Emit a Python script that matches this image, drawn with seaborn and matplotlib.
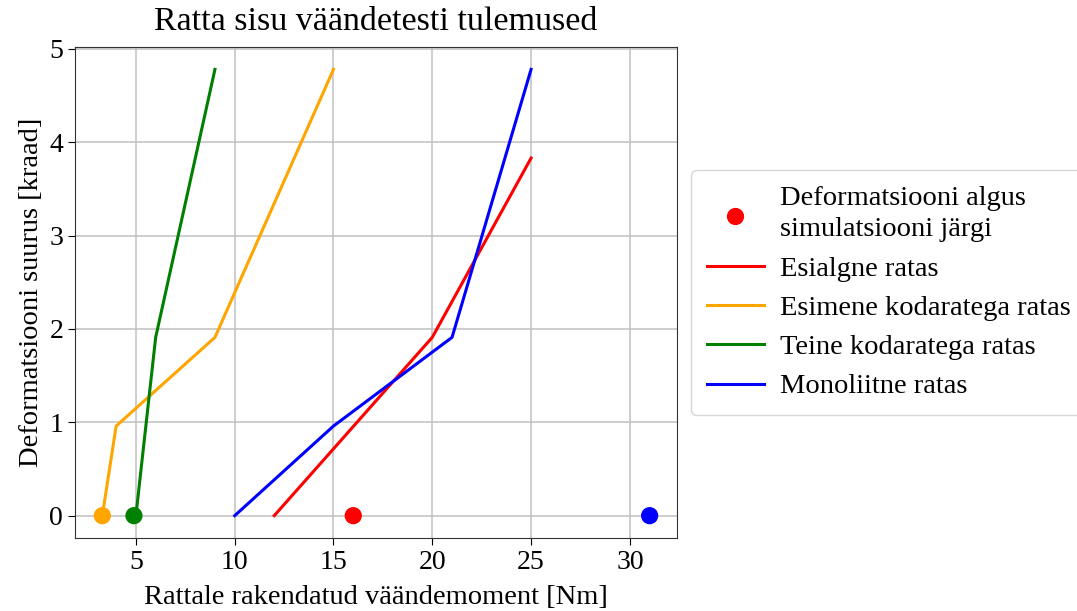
import pandas as pd
import matplotlib.pyplot as plt
import seaborn as sns

# Measured curves (torque [Nm] vs deformation [krad])
esialgne_x = [12, 20, 25]
esialgne_y = [0, 1.91, 3.83]
esimene_x = [3.3, 4, 9, 15]
esimene_y = [0, 0.96, 1.91, 4.78]
teine_x = [5, 6, 9]
teine_y = [0, 1.91, 4.78]
mono_x = [10, 15, 21, 25]
mono_y = [0, 0.96, 1.91, 4.78]

# Simulated deformation start points
sim_x = [16, 3.3, 4.9, 31]
sim_y = [0, 0, 0, 0]
sim_colors = ['red', 'orange', 'green', 'blue']

series = [
    ('Esialgne ratas', esialgne_x, esialgne_y, 'red'),
    ('Esimene kodaratega ratas', esimene_x, esimene_y, 'orange'),
    ('Teine kodaratega ratas', teine_x, teine_y, 'green'),
    ('Monoliitne ratas', mono_x, mono_y, 'blue'),
]

plt.rcParams['font.family'] = ['Liberation Serif', 'DejaVu Serif']

fig = plt.figure(figsize=(10.77, 6.11), dpi=100)
ax = fig.add_axes([0.0696, 0.1195, 0.559, 0.8035])

sim_df = pd.DataFrame({'x': sim_x, 'y': sim_y, 'c': sim_colors})
ax.scatter(sim_df['x'], sim_df['y'], c=sim_df['c'], s=130, zorder=3,
           label='Deformatsiooni algus\nsimulatsiooni järgi')

for name, xs, ys, col in series:
    df = pd.DataFrame({'x': xs, 'y': ys})
    sns.lineplot(data=df, x='x', y='y', ax=ax, color=col, linewidth=2.2,
                 label=name, sort=False, estimator=None)

ax.grid(True, color='#c0c0c0', linewidth=1.1)
for s in ax.spines.values():
    s.set_color('#333333')
ax.tick_params(labelsize=20, direction='out', length=5)
ax.set_title('Ratta sisu väändetesti tulemused', fontsize=24.5, pad=12)
ax.set_xlabel('Rattale rakendatud väändemoment [Nm]', fontsize=20.5, labelpad=7)
ax.set_ylabel('Deformatsiooni suurus [kraad]', fontsize=20.5)
ax.set_xticks([5, 10, 15, 20, 25, 30])
ax.set_yticks([0, 1, 2, 3, 4, 5])

leg = ax.legend(loc='center left', bbox_to_anchor=(1.0, 0.5), fontsize=20.5,
                frameon=True, borderpad=0.55, labelspacing=0.47, handlelength=2.0,
                handletextpad=0.55, borderaxespad=0.5)
leg.legend_handles[0].set_color('red')
leg.get_texts()[0].set_linespacing(1.35)

fig.savefig('out.png', dpi=100)
